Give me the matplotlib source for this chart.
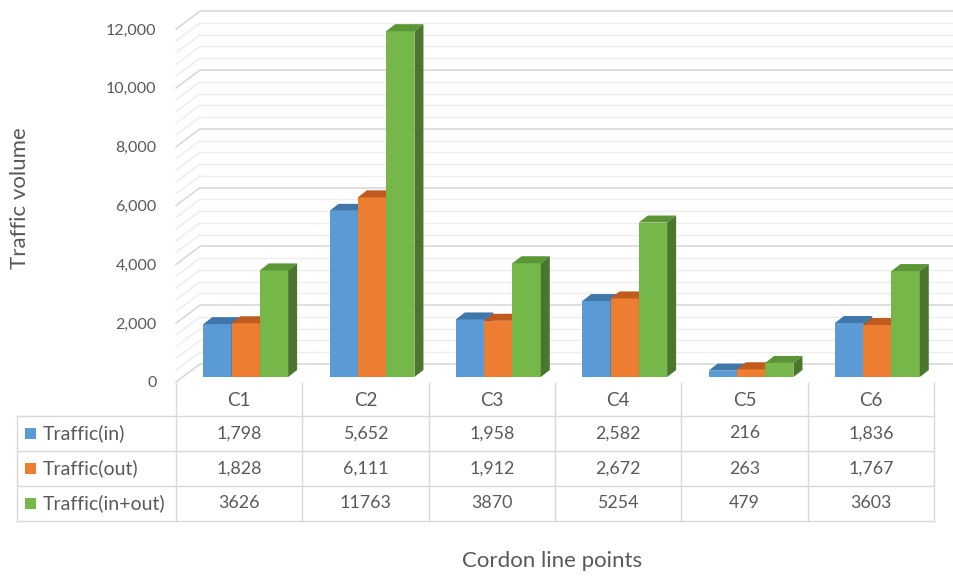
import matplotlib
matplotlib.use("Agg")
import matplotlib.pyplot as plt
from matplotlib.patches import Polygon, Rectangle
from matplotlib.transforms import blended_transform_factory, ScaledTranslation
from matplotlib.ticker import FuncFormatter

# ---- data ----
categories = ["C1", "C2", "C3", "C4", "C5", "C6"]
traffic_in = [1798, 5652, 1958, 2582, 216, 1836]
traffic_out = [1828, 6111, 1912, 2672, 263, 1767]
traffic_total = [3626, 11763, 3870, 5254, 479, 3603]
series_names = ["Traffic(in)", "Traffic(out)", "Traffic(in+out)"]
y_ticks = [0, 2000, 4000, 6000, 8000, 10000, 12000]

# ---- styling ----
front_cols = ["#5B9BD5", "#ED7D31", "#76B74A"]
top_cols = ["#3F77AA", "#C05A1F", "#5A9536"]
side_cols = ["#3A6C99", "#A94F1A", "#4B762D"]
text_col = "#595959"
grid_major = "#D6D6D6"
grid_minor = "#EDEDED"
table_line = "#D9D9D9"

plt.rcParams["font.family"] = ["Lato", "DejaVu Sans"]

W, H = 954, 579
fig = plt.figure(figsize=(W / 100, H / 100), dpi=100)

# value plane: categories from px 176 to 934, value 0 at px 377, 12000 at px ~24
ax_l, ax_r, base_y, top_y = 176, 934, 377, 24.2
ax = fig.add_axes([ax_l / W, (H - base_y) / H, (ax_r - ax_l) / W, (base_y - top_y) / H])
ax.set_xlim(-0.5, len(categories) - 0.5)
ax.set_ylim(0, 12000)
ax.set_facecolor("none")
for s in ax.spines.values():
    s.set_visible(False)
ax.set_xticks([])
ax.set_yticks(y_ticks)
ax.yaxis.set_major_formatter(FuncFormatter(lambda v, p: f"{int(v):,}"))
ax.tick_params(axis="y", length=0, pad=14, labelsize=11.5, labelcolor=text_col)
lbl_shift = ScaledTranslation(0, -3.5 / 72, fig.dpi_scale_trans)
for lbl in ax.get_yticklabels():
    lbl.set_transform(lbl.get_transform() + lbl_shift)

ppx = (ax_r - ax_l) / len(categories)
ppy = (base_y - top_y) / 12000.0


def dx(p):
    return p / ppx


def dy(p):
    return p / ppy


# ---- back wall & side wall gridlines ----
wall_dx, wall_back, wall_front = 24, 13, 5
for v in range(0, 12001, 400):
    major = v % 2000 == 0
    c = grid_major if major else grid_minor
    lw = 1.1 if major else 1.0
    ax.plot([-0.5 + dx(wall_dx), len(categories) - 0.5 + dx(wall_dx + 10)],
            [v + dy(wall_back), v + dy(wall_back)],
            color=c, lw=lw, clip_on=False, zorder=1, solid_capstyle="butt")
    ax.plot([-0.5, -0.5 + dx(wall_dx)], [v - dy(wall_front), v + dy(wall_back)],
            color=c, lw=lw, clip_on=False, zorder=1)

# ---- 3D-looking bars ----
bw = dx(28.3)
gshift = dx(6.5)
ddx, ddy = dx(9), dy(7)
all_series = [traffic_in, traffic_out, traffic_total]
for i in range(len(categories)):
    for j, vals in enumerate(all_series):
        v = vals[i]
        x0 = i - 1.5 * bw + j * bw + gshift
        z = 3 + i * 3 + j
        ax.bar(x0, v, width=bw, align="edge", color=front_cols[j], lw=0, zorder=z)
        ax.add_patch(Polygon([(x0, v), (x0 + bw, v), (x0 + bw + ddx, v + ddy), (x0 + ddx, v + ddy)],
                             closed=True, fc=top_cols[j], ec="none", zorder=z, clip_on=False))
        ax.add_patch(Polygon([(x0 + bw, 0), (x0 + bw, v), (x0 + bw + ddx, v + ddy), (x0 + bw + ddx, ddy)],
                             closed=True, fc=side_cols[j], ec="none", zorder=z, clip_on=False))

# ---- data table ----
def fy(p):
    return 1 - p / H


def fx(p):
    return p / W


tr = blended_transform_factory(ax.transData, fig.transFigure)
row_edges = [383, 416, 451, 486, 521]
ncat = len(categories)
for k in range(ncat + 1):
    fig.add_artist(plt.Line2D([k - 0.5, k - 0.5], [fy(row_edges[0]), fy(row_edges[-1])],
                              transform=tr, color=table_line, lw=1.0))
for ry in row_edges[1:]:
    fig.add_artist(plt.Line2D([fx(17), fx(ax_r)], [fy(ry), fy(ry)],
                              transform=fig.transFigure, color=table_line, lw=1.0))
fig.add_artist(plt.Line2D([fx(17), fx(17)], [fy(row_edges[1]), fy(row_edges[-1])],
                          transform=fig.transFigure, color=table_line, lw=1.0))

for k, cat in enumerate(categories):
    fig.text(k, fy(400), cat, transform=tr, ha="center", va="center",
             fontsize=13.5, color=text_col)

row_centers = [433.5, 468.5, 503.5]
for j, vals in enumerate(all_series):
    yc = fy(row_centers[j])
    for k, v in enumerate(vals):
        txt = f"{v:,}" if j < 2 else f"{v}"
        fig.text(k, yc, txt, transform=tr, ha="center", va="center",
                 fontsize=12.8, color=text_col)
    fig.add_artist(Rectangle((fx(25), yc - 5.5 / H), 11 / W, 11 / H,
                             transform=fig.transFigure, fc=front_cols[j], ec="none"))
    fig.text(fx(43), yc, series_names[j], ha="left", va="center",
             fontsize=14, color=text_col)

# ---- axis titles ----
fig.text(fx(552), fy(561), "Cordon line points", ha="center", va="center",
         fontsize=16, color=text_col)
fig.text(fx(20), fy(198), "Traffic volume", ha="center", va="center",
         rotation=90, fontsize=16, color=text_col)

fig.savefig("out.png", dpi=100, facecolor="white")
